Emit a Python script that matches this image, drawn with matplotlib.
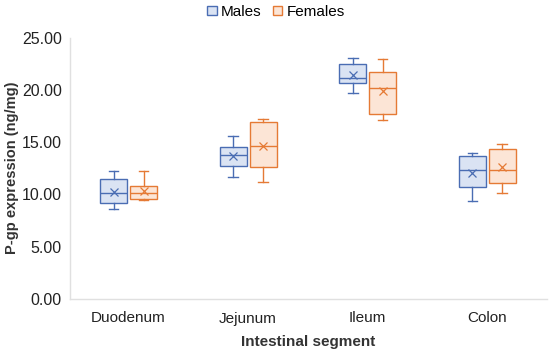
import matplotlib
matplotlib.use("Agg")
import matplotlib.pyplot as plt
from matplotlib.patches import Patch
import numpy as np

plt.rcParams["font.family"] = ["Liberation Sans", "DejaVu Sans"]

# ---------------------------------------------------------------------------
# data
# ---------------------------------------------------------------------------
segments = ["Duodenum", "Jejunum", "Ileum", "Colon"]

males_whislo = [8.57, 11.63, 19.72, 9.40]
males_q1 = [9.15, 12.70, 20.68, 10.68]
males_med = [10.10, 13.77, 21.10, 12.33]
males_q3 = [11.44, 14.50, 22.44, 13.67]
males_whishi = [12.27, 15.60, 23.00, 13.99]
males_mean = [10.26, 13.67, 21.41, 12.07]

females_whislo = [9.50, 11.16, 17.11, 10.10]
females_q1 = [9.55, 12.59, 17.69, 11.06]
females_med = [10.10, 14.63, 20.14, 12.33]
females_q3 = [10.80, 16.90, 21.67, 14.34]
females_whishi = [12.27, 17.18, 22.94, 14.82]
females_mean = [10.35, 14.66, 19.88, 12.65]

MALE_EDGE, MALE_FILL = "#4a6db3", "#dae3f3"
FEMALE_EDGE, FEMALE_FILL = "#e57a35", "#fce5d6"


def make_stats(lo, q1, med, q3, hi, mean):
    return [dict(whislo=a, q1=b, med=c, q3=d, whishi=e, mean=f, fliers=[])
            for a, b, c, d, e, f in zip(lo, q1, med, q3, hi, mean)]


def draw(ax, stats, positions, edge, fill):
    lw = 1.0
    ax.bxp(stats, positions=positions, widths=0.225, showmeans=True,
           showfliers=False, patch_artist=True, capwidths=0.08,
           boxprops=dict(facecolor=fill, edgecolor=edge, linewidth=lw),
           medianprops=dict(color=edge, linewidth=lw),
           whiskerprops=dict(color=edge, linewidth=lw),
           capprops=dict(color=edge, linewidth=lw),
           meanprops=dict(marker="x", markeredgecolor=edge, markersize=5.5,
                          markeredgewidth=0.9))


fig = plt.figure(figsize=(5.5, 3.51), dpi=100)
ax = fig.add_axes([70 / 550, 1 - 299 / 351, 477 / 550, (299 - 37.5) / 351])

x = np.arange(len(segments))
draw(ax, make_stats(males_whislo, males_q1, males_med, males_q3, males_whishi, males_mean),
     x - 0.125, MALE_EDGE, MALE_FILL)
draw(ax, make_stats(females_whislo, females_q1, females_med, females_q3, females_whishi, females_mean),
     x + 0.125, FEMALE_EDGE, FEMALE_FILL)

ax.set_xlim(-0.49, 3.5)
ax.set_ylim(0, 25)
ax.set_xticks(x)
ax.set_xticklabels(segments, fontsize=11, color="#222222")
yt = np.arange(0, 25.1, 5)
ax.set_yticks(yt)
ax.set_yticklabels([f"{v:.2f}" for v in yt], fontsize=11.5, color="#222222")
ax.tick_params(axis="y", length=0, pad=6)
ax.tick_params(axis="x", length=0, pad=9)
for side in ("top", "right"):
    ax.spines[side].set_visible(False)
for side in ("left", "bottom"):
    ax.spines[side].set_color("#e0e0e0")
    ax.spines[side].set_linewidth(1.0)

ax.set_xlabel("Intestinal segment", fontsize=11, fontweight="bold", color="#333333", labelpad=7)
ax.set_ylabel("P-gp expression (ng/mg)", fontsize=10.5, fontweight="bold", color="#333333", labelpad=2)

handles = [Patch(facecolor=MALE_FILL, edgecolor=MALE_EDGE, label="Males"),
           Patch(facecolor=FEMALE_FILL, edgecolor=FEMALE_EDGE, label="Females")]
fig.legend(handles=handles, loc="center", bbox_to_anchor=(276 / 550, 1 - 12 / 351),
           ncol=2, frameon=False, fontsize=11, handlelength=0.6, handleheight=0.6,
           handletextpad=0.3, columnspacing=0.7)

fig.savefig("out.png", dpi=100)
